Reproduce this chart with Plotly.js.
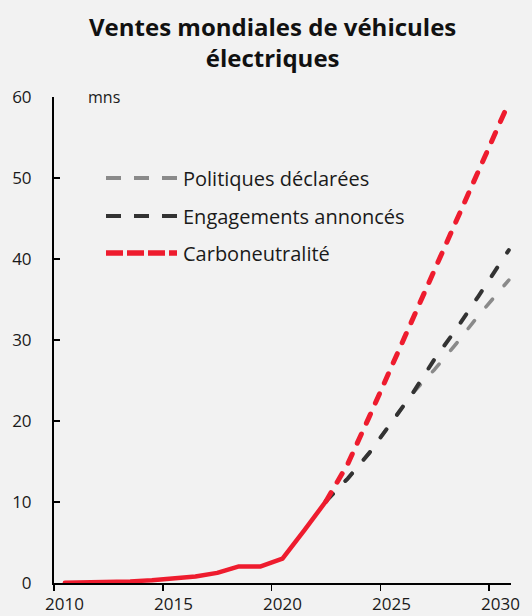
<!DOCTYPE html>
<html>
<head>
<meta charset="utf-8">
<script src="https://cdn.plot.ly/plotly-3.0.1.min.js"></script>
<style>
  html, body { margin: 0; padding: 0; background: #f2f2f2; }
  #chart { width: 532px; height: 616px; }
  .scatterlayer path.js-line { stroke-linecap: round; stroke-linejoin: round; }
</style>
</head>
<body>
<div id="chart"></div>
<script>
// ---- Data ----
const histYears = [2010, 2011, 2012, 2013, 2014, 2015, 2016, 2017, 2018, 2019, 2020, 2021, 2022];
const histSales = [0.02, 0.05, 0.12, 0.2, 0.35, 0.55, 0.8, 1.25, 2.05, 2.05, 3.0, 6.5, 10.1];

const projYears = [2022, 2023, 2024, 2025, 2026, 2027, 2028, 2029, 2030, 2030.4];
const steps     = [10.1, 12.9, 16.1, 19.8, 23.5, 26.4, 29.6, 33.0, 36.2, 37.4]; // Politiques déclarées
const aps       = [10.1, 12.9, 16.1, 19.8, 23.5, 27.7, 31.4, 35.4, 39.5, 41.1]; // Engagements annoncés
const nze       = [10.1, 14.7, 20.6, 26.7, 32.7, 38.8, 45.0, 51.0, 57.0, 59.3]; // Carboneutralité

const xTickLabels = ['2010', '2015', '2020', '2025', '2030'];
const seriesNames = ['Politiques déclarées', 'Engagements annoncés', 'Carboneutralité'];
const titleText = 'Ventes mondiales de véhicules<br>électriques';

const RED = '#ee1c2e', DARK = '#333333', GREY = '#8a8a8a';
const FONT = '"Open Sans", "Noto Sans", sans-serif';

const traces = [
  { x: histYears, y: histSales, type: 'scatter', mode: 'lines', name: 'Historique',
    line: { color: RED, width: 4.5 }, hoverinfo: 'skip' },
  { x: projYears, y: steps, type: 'scatter', mode: 'lines', name: seriesNames[0],
    line: { color: GREY, width: 3.6, dash: '10px,18px' } },
  { x: projYears, y: aps, type: 'scatter', mode: 'lines', name: seriesNames[1],
    line: { color: DARK, width: 4, dash: '10px,18px' } },
  { x: projYears, y: nze, type: 'scatter', mode: 'lines', name: seriesNames[2],
    line: { color: RED, width: 5, dash: '10px,12px' } }
];

// plot area in pixels: left 54, right 511, top 97, bottom 583
const L = 54, R = 511, T = 97, B = 583;
const px = v => (v - L) / (R - L);
const py = v => (B - v) / (B - T);

const legendStyles = [
  { color: GREY, width: 4, dash: '15px,13px' },
  { color: DARK, width: 4, dash: '15px,13px' },
  { color: RED, width: 5.5, dash: '17px,4px' }
];
const legendRows = [178, 216, 253];
const shapes = [], annotations = [];
seriesNames.forEach((n, i) => {
  shapes.push({ type: 'line', xref: 'paper', yref: 'paper',
    x0: px(106), x1: px(177), y0: py(legendRows[i]), y1: py(legendRows[i]),
    line: legendStyles[i] });
  annotations.push({ xref: 'paper', yref: 'paper', x: px(181), y: py(legendRows[i]),
    xanchor: 'left', yanchor: 'middle', showarrow: false, text: n,
    font: { family: FONT, size: 20, color: '#1a1a1a' } });
});
annotations.push({ xref: 'paper', yref: 'paper', x: px(86), y: py(97),
  xanchor: 'left', yanchor: 'middle', showarrow: false, text: 'mns',
  font: { family: FONT, size: 16, color: '#1a1a1a' } });
// chart title
annotations.push({ xref: 'paper', yref: 'paper', x: px(272), y: py(8),
  xanchor: 'center', yanchor: 'top', showarrow: false, text: titleText,
  font: { family: FONT, size: 24, weight: 'bold', color: '#111111' } });
// x tick labels, centred on their category (ticks are on category boundaries)
xTickLabels.forEach(lbl => {
  annotations.push({ xref: 'x', yref: 'paper', x: Number(lbl), y: py(591),
    xanchor: 'center', yanchor: 'top', showarrow: false, text: lbl, borderpad: 0,
    font: { family: FONT, size: 17, color: '#1a1a1a' } });
});

const layout = {
  width: 532, height: 616,
  paper_bgcolor: '#f2f2f2', plot_bgcolor: '#f2f2f2',
  margin: { l: L, r: 532 - R, t: T, b: 616 - B, pad: 0 },
  showlegend: false,
  xaxis: {
    range: [2009.5, 2030.5], showgrid: false, zeroline: false,
    tickmode: 'array', tickvals: xTickLabels.map(v => Number(v) - 0.5),
    showticklabels: false,
    ticks: 'outside', ticklen: 6, tickwidth: 1.5, tickcolor: '#000',
    showline: true, linecolor: '#000', linewidth: 2
  },
  yaxis: {
    range: [0, 60], dtick: 10, tick0: 0, showgrid: false, zeroline: false,
    ticks: 'inside', ticklen: 6, tickwidth: 1.5, tickcolor: '#000',
    showline: true, linecolor: '#000', linewidth: 2,
    ticklabelstandoff: 17,
    tickfont: { family: FONT, size: 17, color: '#1a1a1a' }
  },
  shapes: shapes,
  annotations: annotations
};

Plotly.newPlot('chart', traces, layout, { staticPlot: true, displayModeBar: false });
</script>
</body>
</html>
